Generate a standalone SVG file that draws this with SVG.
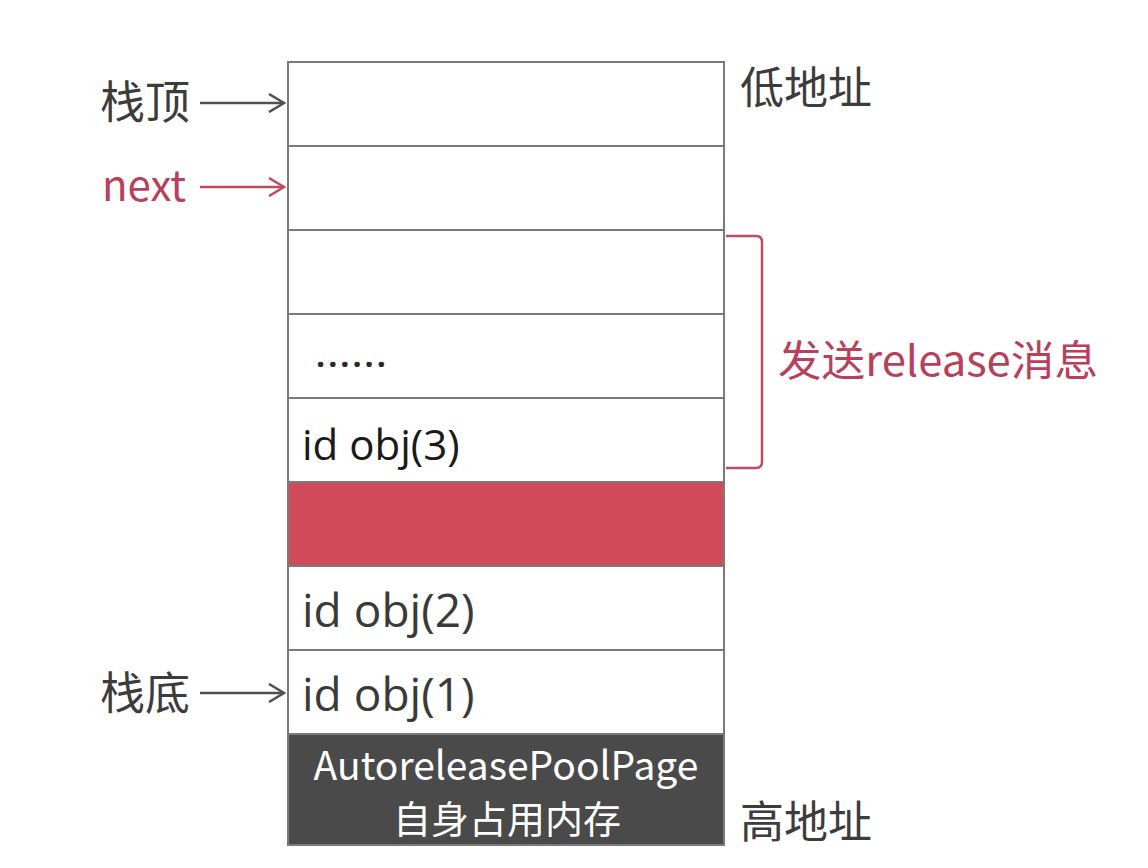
<svg xmlns="http://www.w3.org/2000/svg" width="1148" height="868" viewBox="0 0 1148 868">
<style>
.cell{fill:#ffffff;stroke:#7a7a7a;stroke-width:2}
.lbl{font-family:"Noto Sans CJK SC","Noto Sans",sans-serif;fill:#3c3c3c}
.red{fill:#b8405a}
.obj{font-family:"Open Sans","Noto Sans CJK SC",sans-serif;fill:#3a3a3a}
.wt{font-family:"Noto Sans CJK SC","Open Sans",sans-serif;fill:#ffffff;text-anchor:middle}
</style>
<defs>
<marker id="ag" viewBox="0 0 20 20" refX="17" refY="10" markerWidth="20" markerHeight="20" markerUnits="userSpaceOnUse" orient="auto">
<path d="M2,1 L17,10 L2,19" fill="none" stroke="#505050" stroke-width="2.5"/>
</marker>
<marker id="ar" viewBox="0 0 20 20" refX="17" refY="10" markerWidth="20" markerHeight="20" markerUnits="userSpaceOnUse" orient="auto">
<path d="M2,1 L17,10 L2,19" fill="none" stroke="#c04a60" stroke-width="2.5"/>
</marker>
</defs>
<rect width="1148" height="868" fill="#ffffff"/>
<g id="stack">
<rect class="cell" x="288" y="62" width="436" height="84"/>
<rect class="cell" x="288" y="146" width="436" height="84"/>
<rect class="cell" x="288" y="230" width="436" height="84"/>
<rect class="cell" x="288" y="314" width="436" height="84"/>
<rect class="cell" x="288" y="398" width="436" height="84"/>
<rect x="288" y="482" width="436" height="84" fill="#d04a5a" stroke="#7a7a7a" stroke-width="2"/>
<rect class="cell" x="288" y="566" width="436" height="84"/>
<rect class="cell" x="288" y="650" width="436" height="84"/>
<rect x="288" y="734" width="436" height="111" fill="#4a4a4a" stroke="#7a7a7a" stroke-width="2"/>
</g>
<g id="cell-texts">
<text class="obj" x="316" y="367" font-size="32" font-weight="bold" letter-spacing="3" style="fill:#2a2a2a">......</text>
<text class="obj" x="302" y="460" font-size="42" style="fill:#1a1a1a">id obj(3)</text>
<text class="obj" x="302" y="627" font-size="46">id obj(2)</text>
<text class="obj" x="302" y="711" font-size="46">id obj(1)</text>
<text class="wt" x="506" y="780" font-size="39">AutoreleasePoolPage</text>
<text class="wt" x="507" y="833" font-size="38">自身占用内存</text>
</g>
<g id="labels">
<text class="lbl" x="100" y="119" font-size="45">栈顶</text>
<text class="lbl red" x="102" y="201" font-size="42">next</text>
<text class="lbl" x="100" y="710" font-size="45">栈底</text>
<text class="lbl" x="740" y="104" font-size="44">低地址</text>
<text class="lbl" x="740" y="838" font-size="44">高地址</text>
<text class="lbl red" x="778" y="376" font-size="42" textLength="320" lengthAdjust="spacingAndGlyphs">发送release消息</text>
</g>
<g id="connectors">
<line x1="200" y1="103" x2="284" y2="103" stroke="#505050" stroke-width="2.5" marker-end="url(#ag)"/>
<line x1="200" y1="187" x2="284" y2="187" stroke="#c04a60" stroke-width="2.5" marker-end="url(#ar)"/>
<line x1="200" y1="693" x2="284" y2="693" stroke="#505050" stroke-width="2.5" marker-end="url(#ag)"/>
<path d="M726,236 L756,236 Q762,236 762,242 L762,462 Q762,468 756,468 L726,468" fill="none" stroke="#c04a60" stroke-width="2.5"/>
</g>
</svg>
